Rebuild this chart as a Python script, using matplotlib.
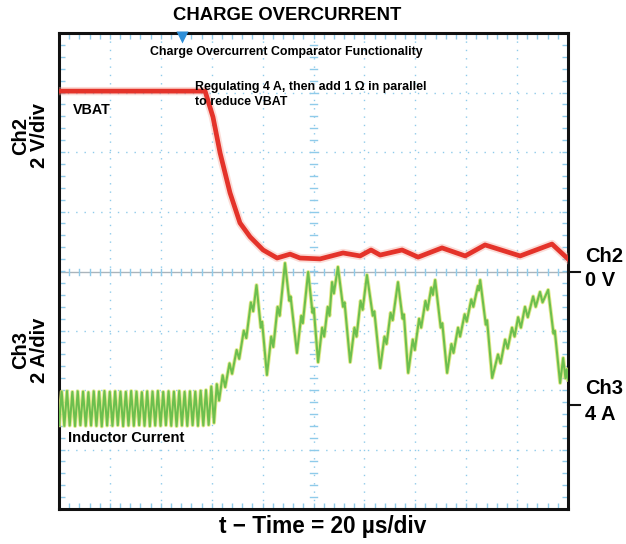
import matplotlib
matplotlib.use('Agg')
import matplotlib.pyplot as plt
import numpy as np

# ---------------- data (time in us, VBAT in V, inductor current in A) -------------
vbat = [(0.0, 6.08), (57.4, 6.08), (60.5, 5.21), (63.3, 4.00), (67.2, 2.66),
        (71.1, 1.65), (75.1, 1.18), (80.2, 0.74), (85.7, 0.47), (90.8, 0.60),
        (94.7, 0.47), (102.6, 0.44), (111.6, 0.64), (118.3, 0.54), (122.6, 0.74),
        (126.2, 0.57), (134.8, 0.74), (141.1, 0.50), (150.5, 0.81), (159.6, 0.54),
        (167.4, 0.91), (181.2, 0.54), (193.7, 0.94), (200.0, 0.44)]

il_regulating = [
    (0.0, 3.32), (1.05, 4.45), (2.1, 3.30), (3.15, 4.47), (4.2, 3.31), (5.25, 4.44),
    (6.3, 3.29), (7.35, 4.46), (8.4, 3.32), (9.45, 4.45), (10.5, 3.30), (11.55, 4.43),
    (12.6, 3.31), (13.65, 4.46), (14.7, 3.30), (15.75, 4.45), (16.8, 3.28), (17.85, 4.47),
    (18.9, 3.31), (19.95, 4.44), (21.0, 3.30), (22.05, 4.46), (23.1, 3.32), (24.15, 4.45),
    (25.2, 3.29), (26.25, 4.44), (27.3, 3.31), (28.35, 4.47), (29.4, 3.30), (30.45, 4.45),
    (31.5, 3.32), (32.55, 4.43), (33.6, 3.30), (34.65, 4.46), (35.7, 3.29), (36.75, 4.45),
    (37.8, 3.31), (38.85, 4.47), (39.9, 3.30), (40.95, 4.44), (42.0, 3.32), (43.05, 4.46),
    (44.1, 3.30), (45.15, 4.45), (46.2, 3.29), (47.25, 4.47), (48.3, 3.31), (49.35, 4.44),
    (50.4, 3.30), (51.45, 4.46), (52.5, 3.32), (53.55, 4.45), (54.6, 3.30), (55.65, 4.48),
    (56.7, 3.31), (57.75, 4.50), (58.8, 3.33), (59.85, 4.62), (60.9, 3.40)]

il_overload = [
    (62.0, 4.70), (62.9, 4.15), (64.3, 5.00), (65.3, 4.60), (67.0, 5.40), (68.0, 5.05),
    (69.8, 5.85), (70.8, 5.55), (72.6, 6.50), (73.6, 6.25), (75.4, 7.45), (76.3, 7.15),
    (77.6, 8.03), (79.3, 6.60), (79.8, 6.80), (81.7, 5.01),
    (83.4, 6.30), (84.2, 5.95), (85.9, 7.30), (86.7, 7.00), (88.8, 8.77),
    (90.5, 7.50), (91.0, 7.65), (93.5, 5.75),
    (95.2, 7.00), (95.8, 6.75), (97.9, 8.47),
    (99.6, 7.10), (100.1, 7.25), (101.8, 5.44),
    (103.4, 6.60), (104.2, 6.30), (105.6, 7.30), (106.3, 7.00), (107.3, 8.13), (108.0, 7.75),
    (109.6, 8.64), (111.6, 7.30), (112.2, 7.45), (114.4, 5.44),
    (116.1, 6.60), (116.9, 6.30), (118.5, 7.50), (119.3, 7.20), (121.0, 8.37),
    (123.3, 7.00), (123.9, 7.15), (126.2, 5.24),
    (127.9, 6.30), (128.7, 6.05), (130.3, 7.10), (131.1, 6.85), (133.2, 8.13),
    (135.0, 6.90), (135.5, 7.05), (137.2, 5.08),
    (139.0, 6.20), (139.8, 5.85), (141.5, 6.90), (142.3, 6.60), (144.0, 7.50), (144.8, 7.20),
    (146.3, 7.95), (146.9, 7.70), (147.8, 8.20),
    (150.0, 6.60), (150.6, 6.75), (152.5, 5.08),
    (154.2, 6.05), (155.0, 5.75), (156.8, 6.60), (157.6, 6.30), (159.4, 7.05), (160.2, 6.80),
    (162.0, 7.55), (162.8, 7.30), (164.6, 8.00), (165.0, 7.85), (165.5, 8.20),
    (167.7, 6.70), (168.2, 6.85), (170.2, 4.91),
    (172.5, 5.70), (173.5, 5.40), (175.3, 6.20), (176.3, 5.90), (178.0, 6.60), (179.0, 6.30),
    (180.4, 6.95), (181.5, 6.60), (183.1, 7.30), (184.2, 6.95), (186.3, 7.65), (187.3, 7.30),
    (189.0, 7.80), (190.0, 7.45), (192.2, 7.87),
    (194.3, 6.40), (194.8, 6.50), (196.9, 4.74),
    (198.1, 5.58), (199.0, 4.90), (199.5, 5.20), (200.0, 4.85)]

trigger_time = 48.3      # us
ch2_scale, ch2_ref = 2.0, 0.0   # V/div, V at marker
ch3_scale, ch3_ref = 2.0, 4.0   # A/div, A at marker

# ---------------- layout ----------------
W, H = 626, 544
fig = plt.figure(figsize=(W / 100, H / 100), dpi=100)
L, R, T, B = 59, 568, 33, 509
ax = fig.add_axes([L / W, 1 - B / H, (R - L) / W, (B - T) / H])
ax.set_xlim(0, 200)
ax.set_ylim(-4, 4)
div_px = (B - T) / 8
ch2_pos = (T + 4 * div_px - 272) / div_px
ch3_pos = (T + 4 * div_px - 405) / div_px

FONT = dict(family=['Liberation Sans', 'DejaVu Sans'], weight='bold')

def px(x, y):
    return x / W, 1 - y / H

# grid
gcol = '#8fcbea'
for k in range(1, 10):
    ax.axvline(20 * k, color=gcol, lw=1.0, ls=(0, (1, 5)), zorder=1)
for k in range(-3, 4):
    if k != 0:
        ax.axhline(k, color=gcol, lw=1.0, ls=(0, (1, 5)), zorder=1)
ax.axhline(ch2_pos, color='#a9b4bc', lw=1.0, zorder=1)
for t in np.arange(4, 200, 4):
    ax.plot([t, t], [ch2_pos - 0.05, ch2_pos + 0.05], color=gcol, lw=1.0, zorder=1)
for yv in np.arange(-3.8, 4, 0.2):
    ax.plot([98.8, 101.2], [yv, yv], color=gcol, lw=1.0, zorder=1)

ax.set_xticks(np.arange(0, 201, 20))
ax.set_xticks(np.arange(0, 201, 4), minor=True)
ax.set_yticks(np.arange(-4, 5, 1))
ax.set_yticks(np.arange(-4, 4.01, 0.2), minor=True)
ax.tick_params(which='both', direction='in', color=gcol, length=4, width=1,
               top=True, right=True, labelleft=False, labelbottom=False)
for s in ax.spines.values():
    s.set_linewidth(2.2)
    s.set_color('#111111')

# traces
vt, vv = zip(*vbat)
vy = [ch2_pos + (v - ch2_ref) / ch2_scale for v in vv]
ax.plot(vt, vy, color='#f5a99c', lw=6.0, alpha=0.4, zorder=3)
ax.plot(vt, vy, color='#e4332a', lw=3.4, solid_joinstyle='round', zorder=4)

it, ia = zip(*(il_regulating + il_overload))
iy = [ch3_pos + (a - ch3_ref) / ch3_scale for a in ia]
ax.plot(it, iy, color='#dfe77a', lw=2.8, alpha=0.85, zorder=3)
ax.plot(it, iy, color='#6cbf4e', lw=1.5, zorder=4)

# trigger marker
ax.plot([trigger_time], [3.93], marker='v', ms=8, color='#2f8fd8', mec='none',
        clip_on=False, zorder=6)

# in-plot annotations
fig.text(*px(150, 52), 'Charge Overcurrent Comparator Functionality', fontsize=8.9,
         ha='left', va='center', **FONT)
fig.text(*px(195, 87), 'Regulating 4 A, then add 1 \u03a9 in parallel',
         fontsize=8.9, ha='left', va='center', **FONT)
fig.text(*px(195, 102), 'to reduce VBAT', fontsize=8.9, ha='left', va='center', **FONT)
fig.text(*px(73, 110), 'VBAT', fontsize=10.3, ha='left', va='center', **FONT)
fig.text(*px(68, 438), 'Inductor Current', fontsize=10.6, ha='left', va='center', **FONT)

# title and axis labels
fig.text(*px(287, 15), 'CHARGE OVERCURRENT', fontsize=13.3, ha='center', va='center', **FONT)
fig.text(*px(323, 527), 't \u2212 Time = 20 \u00b5s/div', fontsize=16.3, ha='center',
         va='center', **FONT)
fig.text(*px(30, 136), 'Ch2\n2 V/div', fontsize=14.5, rotation=90, ha='center',
         va='center', multialignment='center', linespacing=1.0, **FONT)
fig.text(*px(30, 350), 'Ch3\n2 A/div', fontsize=14.5, rotation=90, ha='center',
         va='center', multialignment='center', linespacing=1.0, **FONT)

# right side channel markers
for ypix, l1, l2 in [(272, 'Ch2', '0 V'), (405, 'Ch3', '4 A')]:
    fig.add_artist(plt.Line2D([R / W, 580 / W], [1 - ypix / H] * 2, color='#111111',
                              lw=1.5))
    fig.text(*px(585, ypix - 16), l1, fontsize=14.5, ha='left', va='center', **FONT)
    fig.text(*px(585, ypix + 9), l2, fontsize=14.5, ha='left', va='center', **FONT)

fig.savefig('out.png', dpi=100, facecolor='white')
